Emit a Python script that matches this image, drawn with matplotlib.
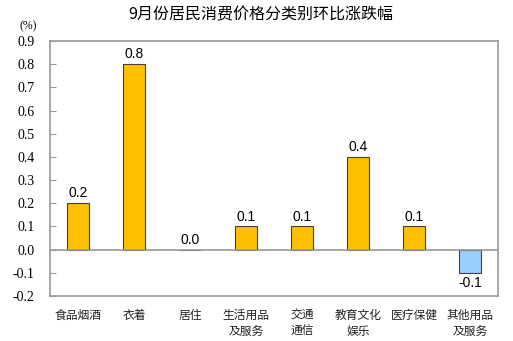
import matplotlib.pyplot as plt
import numpy as np

plt.rcParams['font.family'] = ['Noto Sans CJK SC', 'DejaVu Sans']

categories = ['食品烟酒', '衣着', '居住', '生活用品\n及服务', '交通\n通信', '教育文化\n娱乐', '医疗保健', '其他用品\n及服务']
values = [0.2, 0.8, 0.0, 0.1, 0.1, 0.4, 0.1, -0.1]
yticks = [-0.2, -0.1, 0.0, 0.1, 0.2, 0.3, 0.4, 0.5, 0.6, 0.7, 0.8, 0.9]

fig = plt.figure(figsize=(5.13, 3.41), dpi=100)
ax = fig.add_axes([50 / 513, 45 / 341, 448 / 513, 255 / 341])

x = np.arange(len(categories))
colors = ['#FFC000' if v >= 0 else '#99CCFF' for v in values]
ax.bar(x, values, width=0.41, color=colors, edgecolor='#404040', linewidth=0.8, zorder=3)
# zero line drawn over the bar bottoms
ax.axhline(0, color='#999999', linewidth=1.2, zorder=4)

for xi, v in zip(x, values):
    off = 0.012 if v >= 0 else -0.012
    ax.text(xi, v + off, f'{v:.1f}', ha='center', va='bottom' if v >= 0 else 'top',
            fontsize=10, family='Liberation Sans')

ax.set_xlim(-0.5, len(categories) - 0.5)
ax.set_ylim(-0.2, 0.9)
ax.set_yticks(yticks)
ax.set_yticklabels([f'{t:.1f}' for t in yticks], family='Liberation Serif', fontsize=10)
ax.tick_params(axis='y', direction='in', length=4, color='#999999', pad=11)
ax.set_xticks(x)
ax.set_xticklabels(categories, fontsize=8.5, linespacing=1.3, color='#222222')
ax.tick_params(axis='x', length=0, pad=9)
for s in ax.spines.values():
    s.set_color('#999999')
    s.set_linewidth(1.2)

fig.text(261 / 513, 1 - 15 / 341, '9月份居民消费价格分类别环比涨跌幅', ha='center', va='center', fontsize=11.5)
fig.text(28 / 513, 1 - 26 / 341, '(%)', ha='center', va='center', fontsize=8.5, family='Liberation Serif')

fig.savefig('out.png', dpi=100)
